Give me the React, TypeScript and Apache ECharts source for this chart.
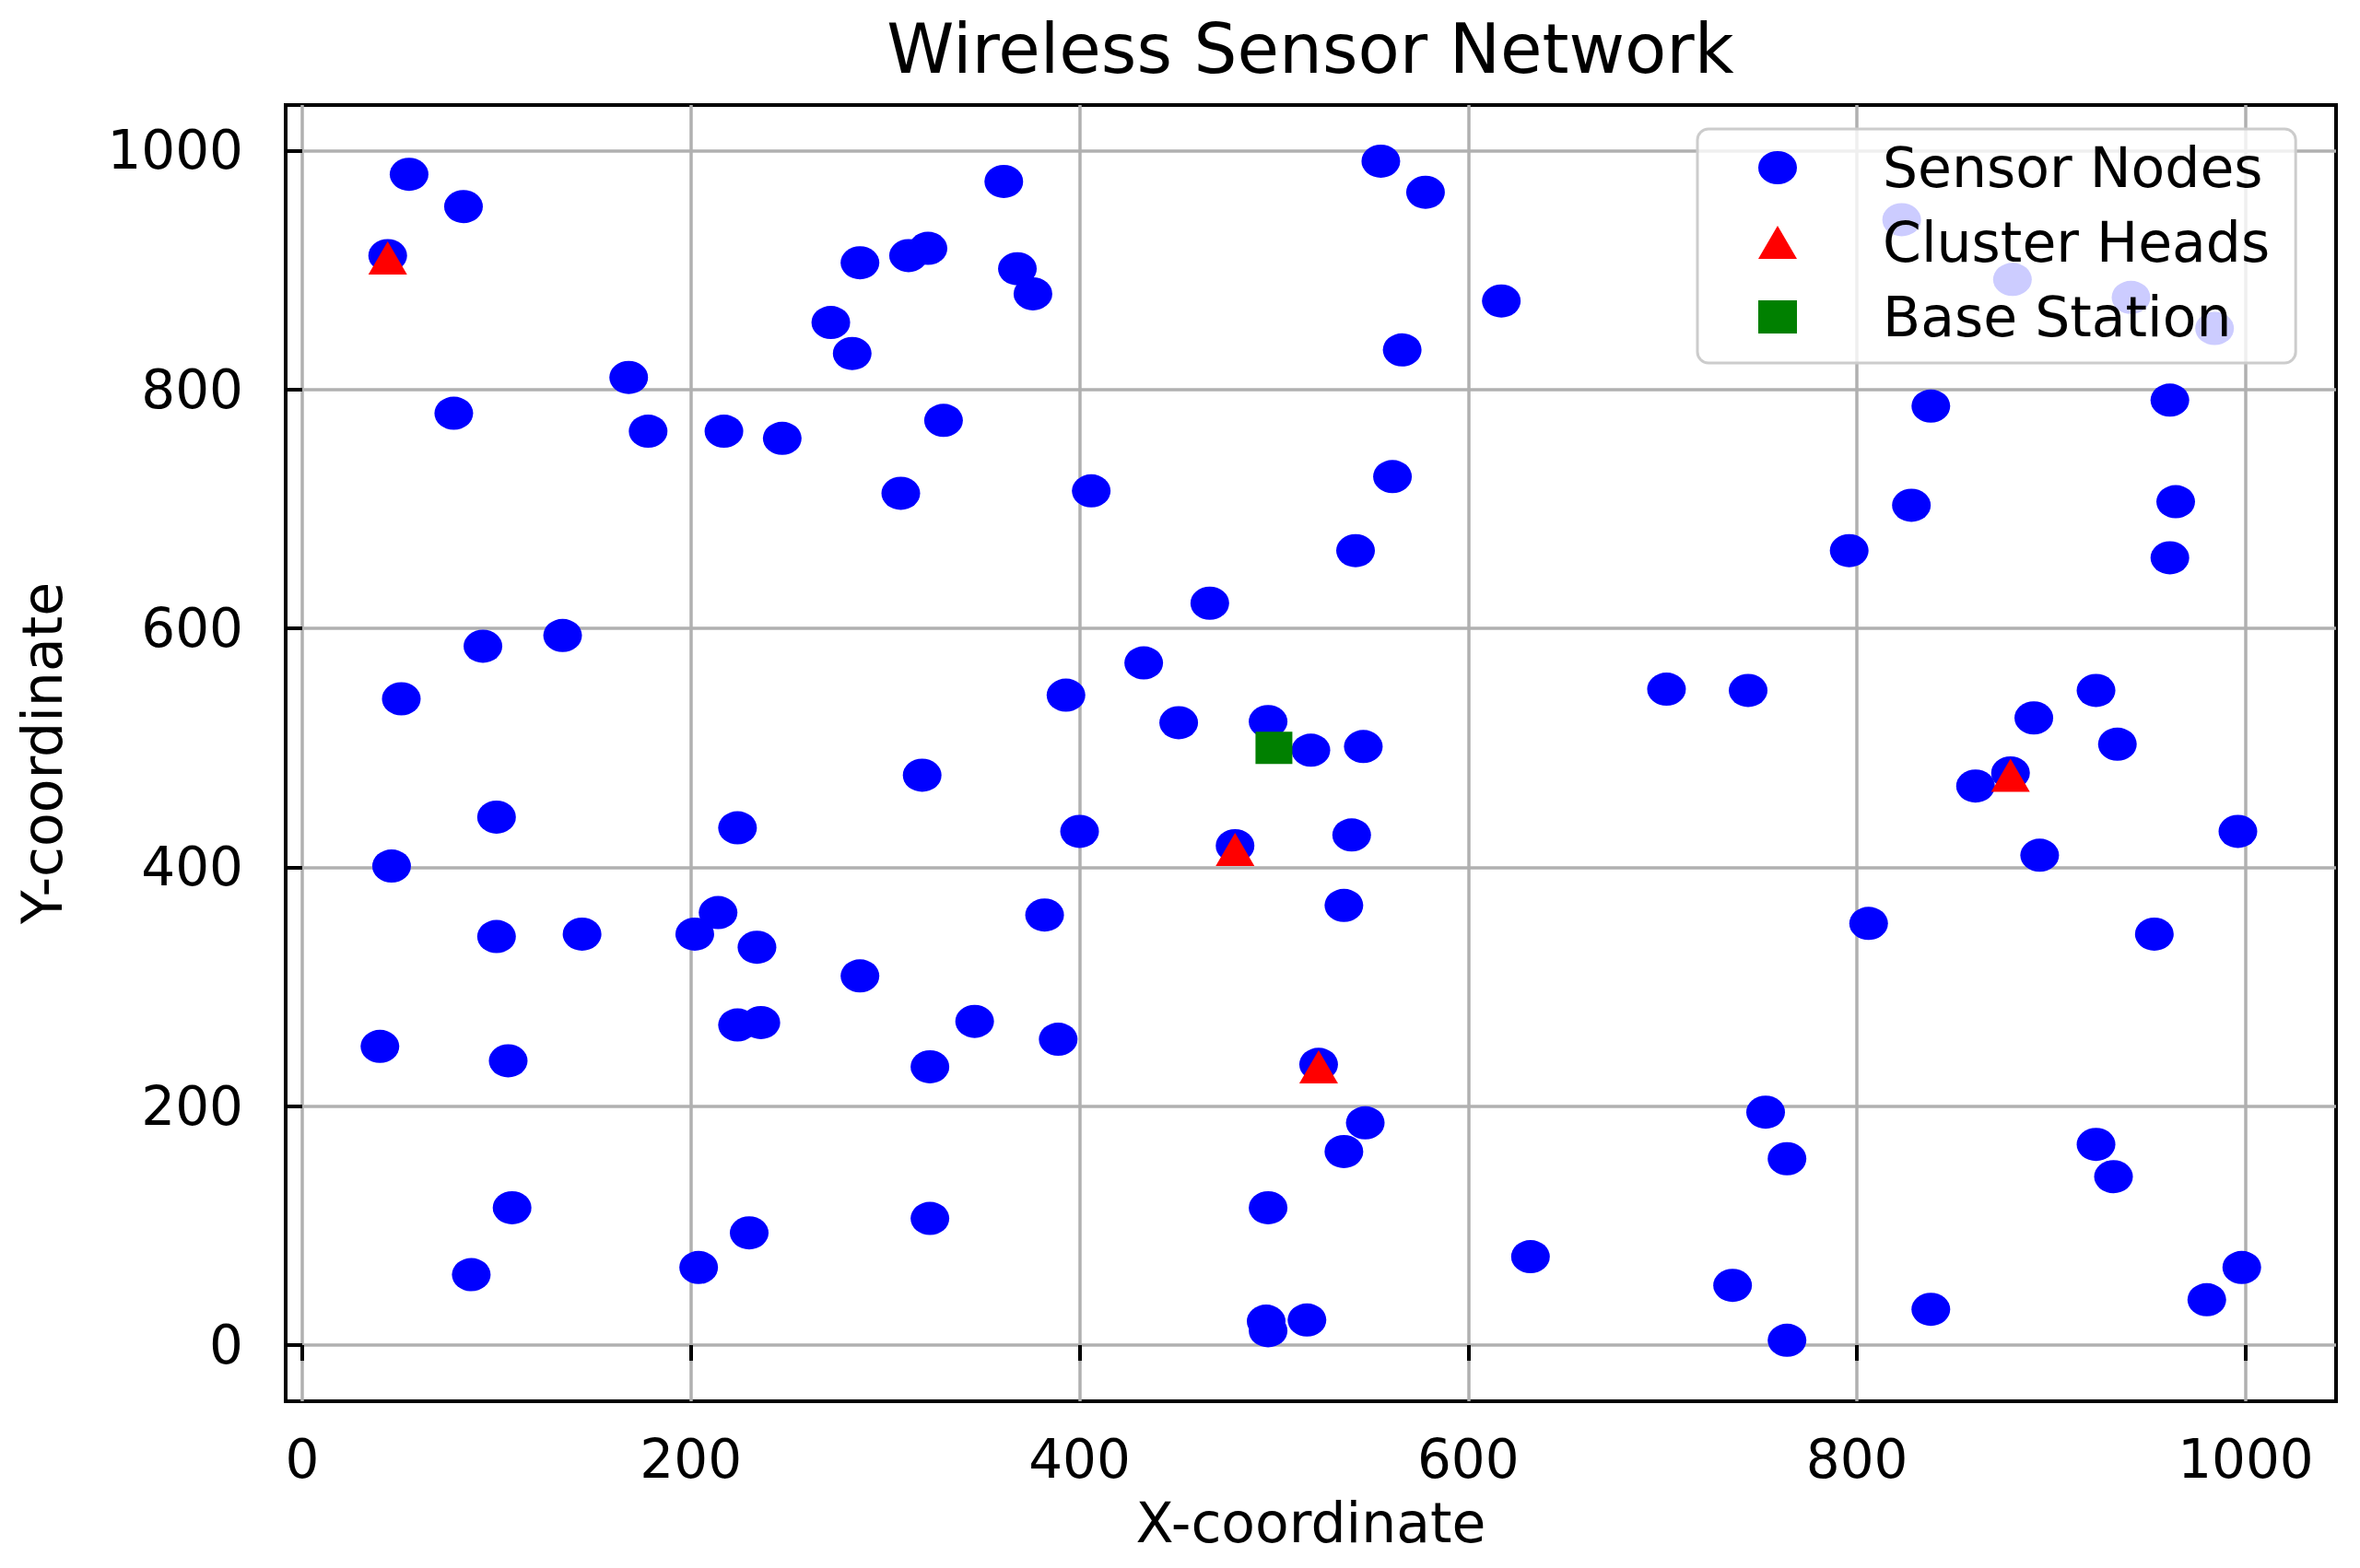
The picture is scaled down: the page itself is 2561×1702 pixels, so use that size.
import React, { useEffect, useRef } from "react";
import * as echarts from "echarts";

const chartTitle = "Wireless Sensor Network";
const xAxisName = "X-coordinate";
const yAxisName = "Y-coordinate";
const seriesNames = ["Sensor Nodes", "Cluster Heads", "Base Station"];

const xTicks = [0, 200, 400, 600, 800, 1000];
const yTicks = [0, 200, 400, 600, 800, 1000];

const sensorX = [
  55, 83, 44, 361, 555, 578, 287, 312, 322, 368,
  376, 272, 283, 617, 566, 168, 78, 178, 217, 247,
  330, 308, 406, 561, 542, 467, 433, 393, 451, 497,
  519, 546, 319, 134, 93, 51, 100, 46, 224, 400,
  480, 540, 536, 382, 214, 202, 234, 100, 144, 287,
  40, 106, 224, 236, 346, 389, 323, 523, 547, 536,
  108, 87, 204, 230, 323, 497, 496, 497, 517, 838,
  961, 828, 796, 964, 961, 702, 744, 923, 891, 934,
  861, 879, 996, 894, 806, 953, 753, 764, 923, 932,
  632, 736, 764, 838, 998, 980, 823, 880, 941, 984,
];
const sensorY = [
  980, 953, 912, 974, 991, 965, 906, 912, 918, 901,
  880, 856, 830, 874, 833, 810, 780, 765, 765, 759,
  774, 713, 715, 727, 665, 621, 571, 544, 521, 522,
  498, 501, 477, 594, 585, 541, 442, 401, 433, 430,
  418, 427, 368, 360, 362, 344, 333, 342, 344, 309,
  250, 238, 268, 270, 271, 256, 233, 235, 186, 162,
  115, 59, 65, 94, 106, 115, 20, 12, 21, 786,
  791, 703, 665, 706, 659, 549, 548, 548, 525, 503,
  468, 479, 430, 410, 353, 344, 195, 156, 168, 141,
  74, 50, 4, 30, 65, 38, 942, 892, 877, 851,
];

const headX = [44, 480, 523, 879];
const headY = [910, 415, 233, 477];

const baseX = [500];
const baseY = [500];

const FONT = "DejaVu Sans";
const ellipse = "path://M0,18 A21,18 0 1,1 42,18 A21,18 0 1,1 0,18 Z";

export default function App() {
  const ref = useRef<HTMLDivElement>(null);

  useEffect(() => {
    document.body.style.margin = "0";
    if (!ref.current) return;
    const chart = echarts.init(ref.current, undefined, { renderer: "svg" });

    const axisCommon = {
      type: "value",
      nameLocation: "middle",
      nameTextStyle: { fontSize: 60, color: "#000", fontFamily: FONT },
      axisLine: { show: false },
      splitLine: { show: true, lineStyle: { color: "#b0b0b0", width: 3.5 } },
    };

    const option: any = {
      animation: false,
      backgroundColor: "#ffffff",
      textStyle: { fontFamily: FONT },
      title: {
        text: chartTitle,
        left: 1417,
        top: 11,
        textAlign: "center",
        textStyle: { fontSize: 74, fontWeight: "normal", color: "#000", fontFamily: FONT },
      },
      grid: {
        left: 310,
        top: 114,
        right: 26,
        bottom: 181,
        show: true,
        borderColor: "#000",
        borderWidth: 4,
        backgroundColor: "#fff",
      },
      legend: {
        orient: "vertical",
        left: 1842,
        top: 140,
        padding: [12, 28, 20, 66],
        itemWidth: 42,
        itemHeight: 36,
        itemGap: 21,
        backgroundColor: "rgba(255,255,255,0.8)",
        borderColor: "#cccccc",
        borderWidth: 3,
        borderRadius: 12,
        selectedMode: false,
        textStyle: { fontSize: 60, color: "#000", fontFamily: FONT, padding: [0, 0, 0, 88], lineHeight: 36 },
        data: seriesNames,
      },
      xAxis: {
        ...axisCommon,
        min: -8.5,
        max: 1046.5,
        name: xAxisName,
        nameGap: 102,
        axisTick: { show: true, length: 17, lineStyle: { color: "#000", width: 4 }, customValues: xTicks },
        axisLabel: {
          customValues: xTicks,
          fontSize: 58,
          color: "#000",
          margin: 34,
          fontFamily: FONT,
          formatter: (v: number) => String(v),
        },
      },
      yAxis: {
        ...axisCommon,
        min: -47,
        max: 1038,
        name: yAxisName,
        nameGap: 234,
        axisTick: { show: true, length: 19, lineStyle: { color: "#000", width: 4 }, customValues: yTicks },
        axisLabel: {
          customValues: yTicks,
          fontSize: 58,
          color: "#000",
          margin: 46,
          fontFamily: FONT,
          formatter: (v: number) => String(v),
        },
      },
      series: [
        {
          name: seriesNames[0],
          type: "scatter",
          data: sensorX.map((x, i) => [x, sensorY[i]]),
          symbol: ellipse,
          symbolSize: [42, 36],
          itemStyle: { color: "#0000ff", opacity: 1 },
          clip: false,
        },
        {
          name: seriesNames[1],
          type: "scatter",
          data: headX.map((x, i) => [x, headY[i]]),
          symbol: "triangle",
          symbolSize: [42, 36],
          itemStyle: { color: "#ff0000", opacity: 1 },
          clip: false,
        },
        {
          name: seriesNames[2],
          type: "scatter",
          data: baseX.map((x, i) => [x, baseY[i]]),
          symbol: "rect",
          symbolSize: [40, 35],
          itemStyle: { color: "#008000", opacity: 1 },
          clip: false,
        },
      ],
    };

    chart.setOption(option);
    return () => chart.dispose();
  }, []);

  return (
    <div
      ref={ref}
      style={{ position: "absolute", left: 0, top: 0, width: 2561, height: 1702, background: "#fff" }}
    />
  );
}
